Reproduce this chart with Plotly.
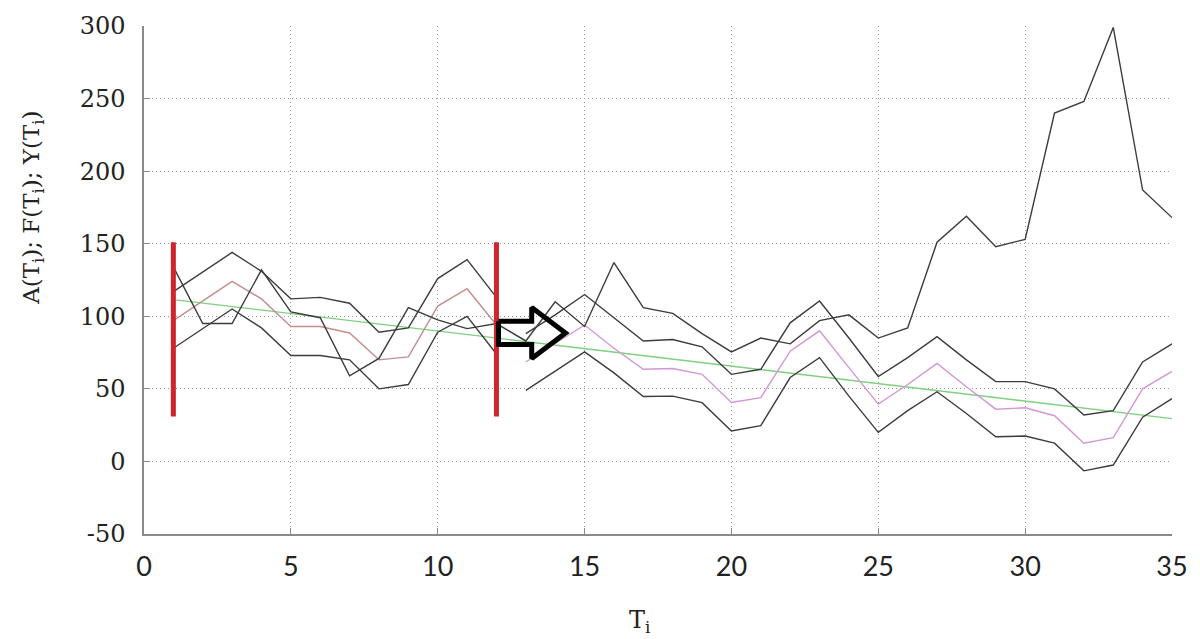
import plotly.graph_objects as go

# ---- data ----
t_all = list(range(1, 36))
actual = [134, 95, 95, 132, 103, 99, 59, 71, 106, 97.5,
          91.5, 95, 83, 110, 93, 137, 106, 102, 88, 75.5,
          85, 81, 97, 101, 85, 92, 151, 169, 148, 153,
          240, 248, 299, 187, 168]

t_fit = list(range(1, 13))
upper_fit = [117, 130.5, 144, 131, 112, 113, 109, 89, 92, 126, 139, 113]
mid_fit = [97, 110.5, 124, 112, 93, 93, 88.5, 70, 72, 107, 119, 94]
lower_fit = [78, 91.5, 105, 92, 73, 73, 70, 50, 53, 89, 100, 74]

t_fc = list(range(13, 36))
upper_fc = [88, 101, 115, 99, 83, 84, 79, 60, 63.5, 95.5, 110.5, 85, 58.5,
            71.5, 86, 70, 55, 55, 50, 32, 35, 68.5, 81]
mid_fc = [68.5, 81, 94, 78, 63.5, 64, 60, 40.6, 44, 76, 90, 64.6, 39.5,
          53, 67.5, 51.5, 36, 37, 31.5, 12.6, 16.4, 50, 62]
lower_fc = [49, 62, 75.5, 61, 44.7, 45, 40.5, 21, 24.7, 57.8, 71.5, 45, 20,
            35, 48, 33, 17, 17.5, 12.6, -6.5, -2.5, 30.5, 43.3]

trend_t = [1, 35]
trend_y = [111.5, 29.5]

red_bar_t = [1, 12]
red_bar_y = [31, 151]

arrow_t = [12.07, 13.2, 13.2, 14.35, 13.2, 13.2, 12.07, 12.07]
arrow_y = [96.5, 96.5, 106, 88.5, 71, 80.5, 80.5, 96.5]

x_ticks = [0, 5, 10, 15, 20, 25, 30, 35]
y_ticks = [-50, 0, 50, 100, 150, 200, 250, 300]

# ---- styles ----
DARK = "#3c3c3c"
fig = go.Figure()

def line(x, y, color, width=1.4):
    fig.add_trace(go.Scatter(x=x, y=y, mode="lines",
                             line=dict(color=color, width=width),
                             hoverinfo="skip", showlegend=False))

line(trend_t, trend_y, "#7fcf7f", 1.3)
line(t_fit, upper_fit, DARK)
line(t_fit, lower_fit, DARK)
line(t_fit, mid_fit, "#c48e8e")
line(t_fc, upper_fc, DARK)
line(t_fc, lower_fc, DARK)
line(t_fc, mid_fc, "#d596d6")
line(t_all, actual, DARK)

for tx in red_bar_t:
    fig.add_trace(go.Scatter(x=[tx, tx], y=red_bar_y, mode="lines",
                             line=dict(color="#d0262b", width=5),
                             hoverinfo="skip", showlegend=False))

fig.add_trace(go.Scatter(x=arrow_t, y=arrow_y, mode="lines",
                         line=dict(color="black", width=5),
                         hoverinfo="skip", showlegend=False))

fig.update_layout(
    width=1200, height=639,
    margin=dict(l=144, r=28, t=23, b=105),
    paper_bgcolor="white", plot_bgcolor="white",
    showlegend=False,
)

fig.update_xaxes(
    range=[0, 35], tickvals=x_ticks, ticktext=[str(v) for v in x_ticks],
    showgrid=True, gridcolor="#9a9a9a", griddash="1px,3px", gridwidth=1,
    showline=True, linecolor="#8a8a8a", linewidth=1.5,
    ticks="inside", ticklen=6, tickcolor="#8a8a8a",
    tickfont=dict(family="Lato", size=27, color="#222"),
    ticklabelstandoff=8, zeroline=False,
)
fig.update_yaxes(
    range=[-50, 300], tickvals=y_ticks, ticktext=[str(v) for v in y_ticks],
    showgrid=True, gridcolor="#9a9a9a", griddash="1px,3px", gridwidth=1,
    showline=True, linecolor="#8a8a8a", linewidth=1.5,
    ticks="inside", ticklen=6, tickcolor="#8a8a8a",
    tickfont=dict(family="DejaVu Serif", size=24, color="#222"),
    ticklabelstandoff=12, zeroline=False,
)

fig.add_annotation(text="A(T<sub>i</sub>); F(T<sub>i</sub>); Y(T<sub>i</sub>)",
                   xref="paper", yref="paper", x=-0.108, y=0.642,
                   xanchor="center", yanchor="middle", textangle=-90,
                   showarrow=False,
                   font=dict(family="DejaVu Serif", size=23, color="#222"))
fig.add_annotation(text="T<sub>i</sub>",
                   xref="paper", yref="paper", x=0.482, y=-0.172,
                   xanchor="center", yanchor="middle", showarrow=False,
                   font=dict(family="DejaVu Serif", size=24, color="#222"))

fig.write_html("out.html")
